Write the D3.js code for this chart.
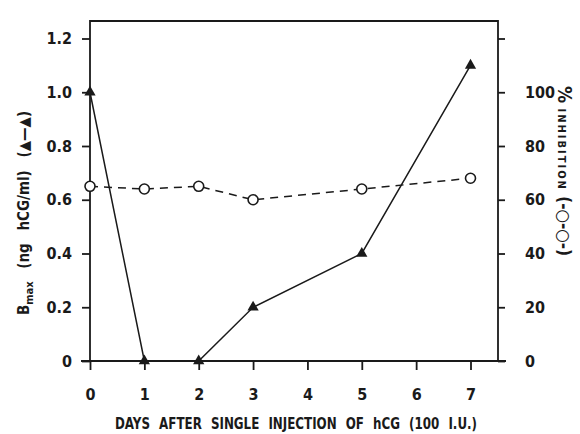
<!DOCTYPE html>
<html>
<head>
<meta charset="utf-8">
<script src="https://cdn.jsdelivr.net/npm/d3@7"></script>
<style>
  body { margin: 0; background: #fff; }
  text { font-family: "Liberation Sans Narrow", "DejaVu Sans Condensed", sans-serif; font-weight: bold; fill: #1a1a1a; }
</style>
</head>
<body>
<div id="chart"></div>
<script>
const days = [0, 1, 2, 3, 5, 7];
const bmax = [1.0, 0, 0, 0.2, 0.4, 1.1];
const inhibition = [65, 64, 65, 60, 64, 68];
const dayTicks = [0, 1, 2, 3, 4, 5, 6, 7];
const leftTicks = [0, 0.2, 0.4, 0.6, 0.8, 1.0, 1.2];
const rightTicks = [0, 20, 40, 60, 80, 100, 120];

const draw = () => {
  const dimensions = {
    width: 580,
    height: 434,
    left: 90,
    right: 498,
    top: 21,
    bottom: 361
  };
  const ink = '#1a1a1a';

  const svg = d3.select('#chart')
    .append('svg')
    .attr('width', dimensions.width)
    .attr('height', dimensions.height);

  const xScale = d3.scaleLinear()
    .domain([0, 7])
    .range([90, 470.5]);

  const yLeft = d3.scaleLinear()
    .domain([0, 1.2])
    .range([dimensions.bottom, 38.5]);

  const yRight = d3.scaleLinear()
    .domain([0, 120])
    .range([dimensions.bottom, 38.5]);

  // frame
  svg.append('path')
    .attr('d', `M${dimensions.left},${dimensions.bottom}V${dimensions.top}H${dimensions.right}V${dimensions.bottom}`)
    .attr('fill', 'none')
    .attr('stroke', ink)
    .attr('stroke-width', 1.8);
  svg.append('line')
    .attr('x1', 81).attr('x2', 506)
    .attr('y1', dimensions.bottom).attr('y2', dimensions.bottom)
    .attr('stroke', ink)
    .attr('stroke-width', 1.8);

  const styleAxis = (g) => {
    g.select('.domain').remove();
    g.selectAll('line').attr('stroke', ink).attr('stroke-width', 1.8);
    g.selectAll('text').attr('fill', ink).style('font-size', '16px')
      .style('font-family', '"Liberation Sans Narrow", "DejaVu Sans Condensed", sans-serif')
      .style('font-weight', 'bold');
  };

  svg.append('g')
    .attr('transform', `translate(0, ${dimensions.bottom})`)
    .call(d3.axisBottom(xScale).tickValues(dayTicks).tickSize(9).tickPadding(19).tickFormat(d3.format('d')))
    .call(styleAxis);

  svg.append('g')
    .attr('transform', `translate(${dimensions.left}, 0)`)
    .call(d3.axisLeft(yLeft).tickValues(leftTicks).tickSize(8).tickPadding(10)
      .tickFormat((d) => d === 0 ? '0' : d3.format('.1f')(d)))
    .call(styleAxis);

  svg.append('g')
    .attr('transform', `translate(${dimensions.right}, 0)`)
    .call(d3.axisRight(yRight).tickValues(rightTicks).tickSize(7).tickPadding(20)
      .tickFormat((d) => d === 120 ? '' : d))
    .call(styleAxis);

  // % inhibition, dashed with open circles
  const lineRight = d3.line()
    .x((d, i) => xScale(days[i]))
    .y((d) => yRight(d));

  svg.append('path')
    .attr('d', lineRight(inhibition))
    .attr('fill', 'none')
    .attr('stroke', ink)
    .attr('stroke-width', 1.5)
    .attr('stroke-dasharray', '8,6');

  svg.append('g')
    .selectAll('circle')
    .data(inhibition)
    .join('circle')
    .attr('cx', (d, i) => xScale(days[i]))
    .attr('cy', (d) => yRight(d))
    .attr('r', 5)
    .attr('fill', '#fff')
    .attr('stroke', ink)
    .attr('stroke-width', 1.6);

  // Bmax, solid with filled triangles
  const lineLeft = d3.line()
    .x((d, i) => xScale(days[i]))
    .y((d) => yLeft(d));

  svg.append('path')
    .attr('d', lineLeft(bmax))
    .attr('fill', 'none')
    .attr('stroke', ink)
    .attr('stroke-width', 1.5);

  svg.append('g')
    .selectAll('path')
    .data(bmax)
    .join('path')
    .attr('transform', (d, i) => `translate(${xScale(days[i])}, ${yLeft(d)})`)
    .attr('d', d3.symbol(d3.symbolTriangle, 55))
    .attr('fill', ink);

  // axis titles
  svg.append('text')
    .attr('x', 115)
    .attr('y', 429)
    .attr('textLength', 362)
    .attr('lengthAdjust', 'spacingAndGlyphs')
    .style('font-size', '16px')
    .style('word-spacing', '6px')
    .text('DAYS AFTER SINGLE INJECTION OF hCG (100 I.U.)');

  const leftTitle = svg.append('text')
    .attr('transform', 'translate(29, 213) rotate(-90)')
    .attr('text-anchor', 'middle')
    .style('font-size', '15px');
  leftTitle.append('tspan').text('B');
  leftTitle.append('tspan').attr('dy', 4).style('font-size', '11px').text('max');
  leftTitle.append('tspan').attr('dy', -4).style('word-spacing', '8px').text('  (ng  hCG/ml)  (▲—▲)');

  const rightTitle = svg.append('text')
    .attr('transform', 'translate(558, 171) rotate(90)')
    .attr('text-anchor', 'middle');
  rightTitle.append('tspan').style('font-size', '19px').text('%');
  rightTitle.append('tspan').style('font-size', '11px').style('letter-spacing', '2px').text('  INHIBITION  ');
  rightTitle.append('tspan').style('font-size', '17px').text('(-○-○-)');
};

draw();
</script>
</body>
</html>
